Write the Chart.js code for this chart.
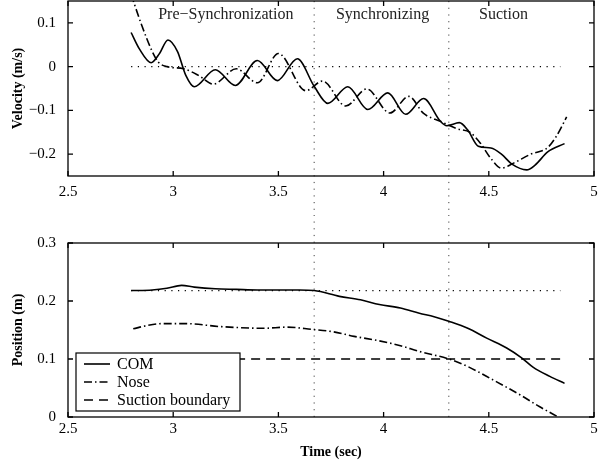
<!DOCTYPE html>
<html>
<head>
<meta charset="utf-8">
<script src="https://cdn.jsdelivr.net/npm/chart.js@4.4.0/dist/chart.umd.min.js"></script>
<style>
body { margin: 0; background: #fff; }
#top { position: absolute; left: 0; top: 0; width: 605px; height: 215px; }
#bot { position: absolute; left: 0; top: 215px; width: 605px; height: 246px; }
</style>
</head>
<body>
<div id="top"><canvas id="velChart"></canvas></div>
<div id="bot"><canvas id="posChart"></canvas></div>
<script>
// velocity (top panel)
var comVelT = [2.80, 2.84, 2.895, 2.935, 2.975, 3.02, 3.06, 3.10, 3.20, 3.295, 3.40, 3.495, 3.59, 3.67, 3.735, 3.83, 3.925, 4.02, 4.105, 4.19, 4.27, 4.30, 4.36, 4.40, 4.45, 4.51, 4.56, 4.61, 4.68, 4.72, 4.78, 4.86];
var comVel  = [0.078, 0.04, 0.009, 0.03, 0.061, 0.035, -0.02, -0.046, -0.007, -0.043, 0.014, -0.032, 0.018, -0.045, -0.084, -0.046, -0.098, -0.06, -0.109, -0.073, -0.125, -0.135, -0.128, -0.145, -0.182, -0.186, -0.2, -0.223, -0.236, -0.225, -0.195, -0.176];
var noseVelT = [2.80, 2.85, 2.90, 2.93, 2.97, 3.05, 3.12, 3.19, 3.30, 3.40, 3.50, 3.63, 3.71, 3.82, 3.92, 4.03, 4.12, 4.19, 4.27, 4.35, 4.41, 4.46, 4.51, 4.56, 4.62, 4.70, 4.78, 4.82, 4.87];
var noseVel  = [0.165, 0.095, 0.035, 0.01, 0.0, -0.005, -0.02, -0.04, -0.005, -0.037, 0.03, -0.055, -0.033, -0.09, -0.051, -0.106, -0.068, -0.107, -0.125, -0.142, -0.15, -0.175, -0.21, -0.232, -0.22, -0.2, -0.185, -0.16, -0.115];

// position (bottom panel)
var comPosT = [2.80, 2.90, 2.97, 3.04, 3.10, 3.20, 3.30, 3.40, 3.50, 3.60, 3.67, 3.79, 3.89, 3.98, 4.08, 4.17, 4.24, 4.31, 4.40, 4.49, 4.585, 4.656, 4.71, 4.79, 4.86];
var comPos  = [0.218, 0.219, 0.222, 0.227, 0.224, 0.221, 0.220, 0.219, 0.219, 0.219, 0.218, 0.208, 0.202, 0.194, 0.188, 0.179, 0.173, 0.165, 0.153, 0.136, 0.119, 0.102, 0.086, 0.07, 0.058];
var nosePosT = [2.81, 2.88, 2.95, 3.06, 3.22, 3.43, 3.54, 3.66, 3.76, 3.86, 3.97, 4.08, 4.17, 4.31, 4.40, 4.52, 4.65, 4.74, 4.81, 4.85];
var nosePos  = [0.152, 0.158, 0.161, 0.161, 0.156, 0.153, 0.155, 0.151, 0.147, 0.139, 0.132, 0.123, 0.113, 0.100, 0.087, 0.064, 0.038, 0.018, 0.004, -0.004];

// reference lines
var refT = [2.80, 4.84];
var velRef = 0;
var comPosRef = 0.218;
var suctionT = [2.80, 4.86];
var suctionLevel = 0.1;
var phaseBounds = [3.67, 4.31];
var phaseNames = ['Pre\u2212Synchronization', 'Synchronizing', 'Suction'];
var phaseLabelT = [3.25, 3.995, 4.57];

var xTicks = [2.5, 3, 3.5, 4, 4.5, 5];
var velTicks = [-0.2, -0.1, 0, 0.1];
var posTicks = [0, 0.1, 0.2, 0.3];

var serif = '"Liberation Serif", "DejaVu Serif", serif';
var dotDash = [1.2, 5.5];

function pts(ts, vs) {
    return ts.map(function(t, i) { return { x: t, y: vs[i] }; });
}
function flat(ts, v) {
    return ts.map(function(t) { return { x: t, y: v }; });
}
function fmt(v) {
    var s = String(Math.round(v * 100) / 100);
    return s.replace('-', '\u2212');
}

// box + inward ticks, matlab style
var boxPlugin = {
    id: 'boxTicks',
    afterDatasetsDraw: function(chart) {
        var a = chart.chartArea, ctx = chart.ctx, xs = chart.scales.x, ys = chart.scales.y;
        ctx.save();
        ctx.strokeStyle = '#000';
        ctx.lineWidth = 1.3;
        ctx.setLineDash([]);
        ctx.strokeRect(a.left, a.top, a.right - a.left, a.bottom - a.top);
        ctx.beginPath();
        xs.ticks.forEach(function(t) {
            var p = xs.getPixelForValue(t.value);
            ctx.moveTo(p, a.bottom); ctx.lineTo(p, a.bottom - 5);
            ctx.moveTo(p, a.top); ctx.lineTo(p, a.top + 5);
        });
        ys.ticks.forEach(function(t) {
            var p = ys.getPixelForValue(t.value);
            ctx.moveTo(a.left, p); ctx.lineTo(a.left + 5, p);
            ctx.moveTo(a.right, p); ctx.lineTo(a.right - 5, p);
        });
        ctx.stroke();
        ctx.restore();
    }
};

var phasePlugin = {
    id: 'phaseLabels',
    afterDatasetsDraw: function(chart) {
        if (!chart.options.plugins.phaseLabels) return;
        var ctx = chart.ctx, xs = chart.scales.x, a = chart.chartArea;
        ctx.save();
        ctx.font = '16px ' + serif;
        ctx.fillStyle = '#222';
        ctx.textAlign = 'center';
        ctx.textBaseline = 'middle';
        phaseNames.forEach(function(n, i) {
            ctx.fillText(n, xs.getPixelForValue(phaseLabelT[i]), a.top + 14);
        });
        ctx.restore();
    }
};

var legendPlugin = {
    id: 'boxLegend',
    afterDraw: function(chart) {
        if (!chart.options.plugins.boxLegend) return;
        var ctx = chart.ctx, a = chart.chartArea;
        var items = chart.data.datasets.filter(function(d) { return d.label; });
        var w = 164, h = 58;
        var x0 = a.left + 8, y0 = a.bottom - 6 - h;
        ctx.save();
        ctx.fillStyle = '#fff';
        ctx.fillRect(x0, y0, w, h);
        ctx.strokeStyle = '#000';
        ctx.lineWidth = 1.2;
        ctx.setLineDash([]);
        ctx.strokeRect(x0, y0, w, h);
        ctx.font = '16px ' + serif;
        ctx.fillStyle = '#000';
        ctx.textBaseline = 'middle';
        items.forEach(function(d, i) {
            var y = y0 + 11 + i * 18;
            ctx.beginPath();
            ctx.lineWidth = d.borderWidth;
            ctx.setLineDash(d.borderDash || []);
            ctx.moveTo(x0 + 8, y);
            ctx.lineTo(x0 + 34, y);
            ctx.stroke();
            ctx.fillText(d.label, x0 + 41, y + 1);
        });
        ctx.restore();
    }
};

function vLines(lo, hi) {
    return phaseBounds.map(function(t) {
        return {
            data: [{ x: t, y: lo }, { x: t, y: hi }],
            borderColor: '#444', borderWidth: 1, borderDash: dotDash,
            pointRadius: 0, clip: false
        };
    });
}

function baseOptions(yMin, yMax, yTitle, xTickPad, xHeight, xTitle, padTop) {
    return {
        responsive: true,
        maintainAspectRatio: false,
        animation: false,
        layout: { padding: { left: 0, right: 11, top: padTop, bottom: 0 } },
        plugins: { legend: { display: false }, tooltip: { enabled: false } },
        scales: {
            x: {
                type: 'linear', min: 2.5, max: 5,
                grid: { display: false, drawTicks: false },
                border: { display: false },
                afterBuildTicks: function(s) { s.ticks = xTicks.map(function(v) { return { value: v }; }); },
                afterFit: function(s) { s.height = xHeight; s.paddingLeft = 0; s.paddingRight = 0; },
                ticks: { padding: xTickPad, color: '#000', font: { family: serif, size: 15 }, callback: fmt, maxRotation: 0 },
                title: { display: !!xTitle, text: xTitle, color: '#000', font: { family: serif, size: 14, weight: 'bold' }, padding: { top: 0, bottom: 0 } }
            },
            y: {
                min: yMin, max: yMax,
                grid: { display: false, drawTicks: false },
                border: { display: false },
                afterBuildTicks: function(s) { s.ticks = s.options.tickList.map(function(v) { return { value: v }; }); },
                afterFit: function(s) { s.width = 68; s.paddingTop = 0; s.paddingBottom = 0; },
                ticks: { padding: 12, color: '#000', font: { family: serif, size: 15 }, callback: fmt },
                title: { display: true, text: yTitle, color: '#000', font: { family: serif, size: 14, weight: 'bold' }, padding: { top: 10, bottom: 0 } }
            }
        }
    };
}

var curve = { pointRadius: 0, borderColor: '#000', borderWidth: 1.6, fill: false, cubicInterpolationMode: 'monotone' };

var velOpts = baseOptions(-0.25, 0.15, 'Velocity (m/s)', 7, 39, '', 1);
velOpts.scales.y.tickList = velTicks;
velOpts.plugins.phaseLabels = true;

new Chart(document.getElementById('velChart'), {
    type: 'line',
    data: {
        datasets: [
            Object.assign({}, curve, { data: pts(comVelT, comVel) }),
            Object.assign({}, curve, { data: pts(noseVelT, noseVel), borderDash: [8, 3, 1.5, 3] }),
            { data: flat(refT, velRef), borderColor: '#000', borderWidth: 1.2, borderDash: dotDash, pointRadius: 0 }
        ].concat(vLines(0.15, -0.6))
    },
    options: velOpts,
    plugins: [boxPlugin, phasePlugin]
});

var posOpts = baseOptions(0, 0.3, 'Position (m)', 3, 44, 'Time (sec)', 28);
posOpts.scales.y.tickList = posTicks;
posOpts.plugins.boxLegend = true;

new Chart(document.getElementById('posChart'), {
    type: 'line',
    data: {
        datasets: [
            Object.assign({}, curve, { label: 'COM', data: pts(comPosT, comPos) }),
            Object.assign({}, curve, { label: 'Nose', data: pts(nosePosT, nosePos), borderDash: [8, 3, 1.5, 3] }),
            { label: 'Suction boundary', data: flat(suctionT, suctionLevel), borderColor: '#000', borderWidth: 1.4, borderDash: [9, 6], pointRadius: 0 },
            { data: flat(refT, comPosRef), borderColor: '#000', borderWidth: 1.2, borderDash: dotDash, pointRadius: 0 }
        ].concat(vLines(0, 0.6))
    },
    options: posOpts,
    plugins: [boxPlugin, legendPlugin]
});
</script>
</body>
</html>
